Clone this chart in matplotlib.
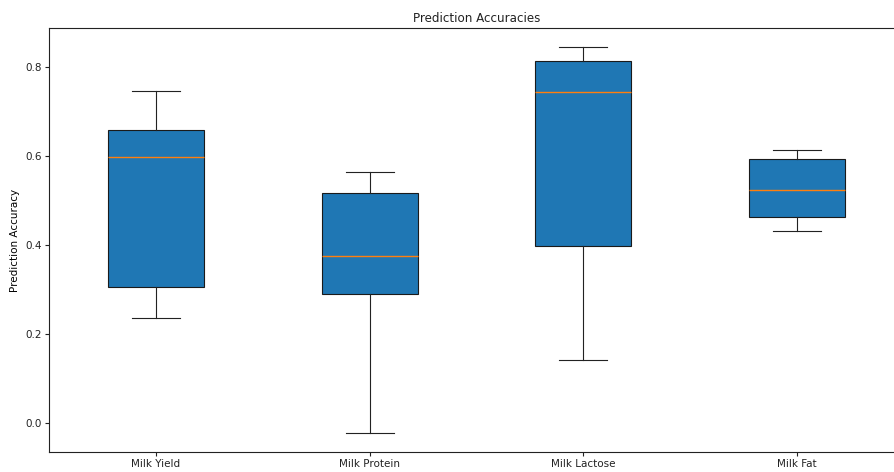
import matplotlib
matplotlib.use("Agg")
import matplotlib.pyplot as plt

# Summary statistics of prediction accuracy for each trait
traits = ["Milk Yield", "Milk Protein", "Milk Lactose", "Milk Fat"]
whisker_low = [0.236, -0.024, 0.140, 0.431]
q1 = [0.304, 0.289, 0.397, 0.462]
median = [0.597, 0.374, 0.744, 0.522]
q3 = [0.658, 0.516, 0.812, 0.593]
whisker_high = [0.746, 0.563, 0.844, 0.613]

stats = [
    {"label": t, "whislo": lo, "q1": a, "med": m, "q3": b, "whishi": hi, "fliers": []}
    for t, lo, a, m, b, hi in zip(traits, whisker_low, q1, median, q3, whisker_high)
]

fs = 7.5
lw = 0.8
plt.rcParams.update({
    "font.size": fs,
    "axes.linewidth": lw,
    "axes.edgecolor": "#222222",
    "xtick.major.width": lw,
    "ytick.major.width": lw,
    "xtick.major.size": 2.6,
    "ytick.major.size": 2.6,
    "xtick.major.pad": 2.6,
    "ytick.major.pad": 2.6,
    "text.color": "#222222",
    "xtick.color": "#222222",
    "ytick.color": "#222222",
})

fig = plt.figure(figsize=(8.94, 4.72), dpi=100)
ax = fig.add_axes([49 / 894, 20 / 472, 855 / 894, 424 / 472])

ax.bxp(
    stats,
    patch_artist=True,
    showfliers=False,
    boxprops=dict(facecolor="#1f77b4", edgecolor="#1a1a1a", linewidth=lw),
    medianprops=dict(color="#ff7f0e", linewidth=1.0),
    whiskerprops=dict(color="#222222", linewidth=lw),
    capprops=dict(color="#222222", linewidth=lw),
)

ax.set_ylim(-0.066, 0.887)
ax.set_yticks([0.0, 0.2, 0.4, 0.6, 0.8])
ax.set_title("Prediction Accuracies", fontsize=8.6, pad=4.5)
ax.set_ylabel("Prediction Accuracy", labelpad=4)

fig.savefig("out.png", dpi=100)
